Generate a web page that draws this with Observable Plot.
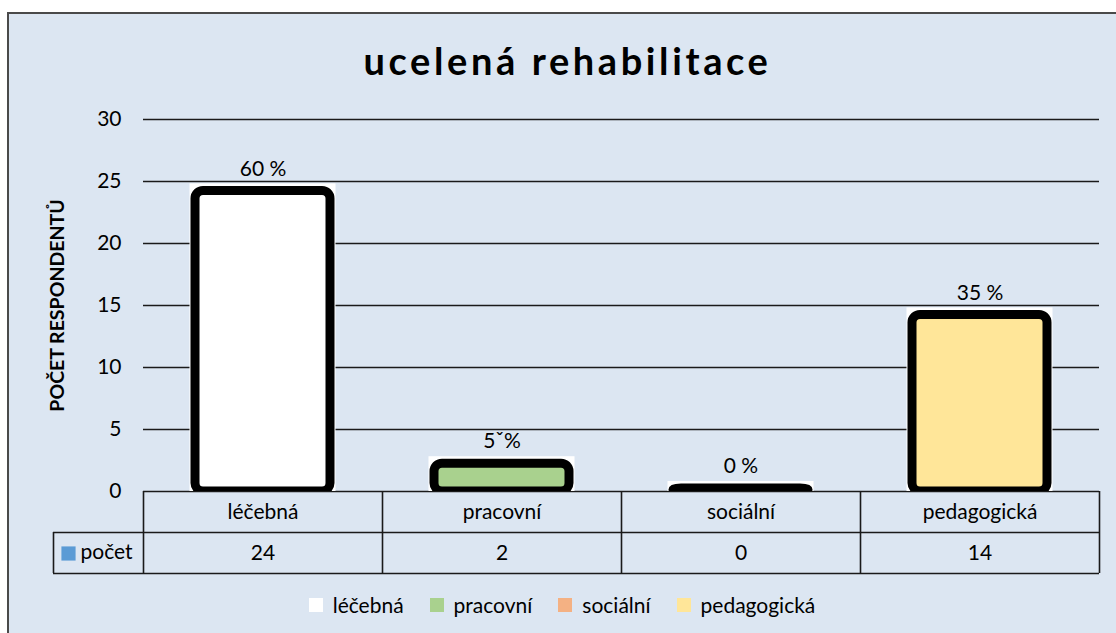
<!DOCTYPE html>
<html><head><meta charset="utf-8">
<script src="https://cdn.jsdelivr.net/npm/d3@7"></script>
<script src="https://cdn.jsdelivr.net/npm/@observablehq/plot@0.6"></script>
<style>
body{margin:0;background:#fff;}
#wrap{position:relative;width:1116px;height:633px;overflow:hidden;font-family:Lato,sans-serif;}
#box{position:absolute;left:7px;top:12px;width:1200px;height:700px;border:2px solid #4a4a4a;background:#DCE6F2;}
#title{position:absolute;top:41px;left:0;width:1135px;text-align:center;font-weight:bold;font-size:38px;line-height:38px;letter-spacing:3.6px;color:#000;}
#chart{position:absolute;left:0;top:0;}
#legend{position:absolute;left:0;top:588px;width:1116px;padding-left:34px;box-sizing:border-box;}
#legend > div{justify-content:center;font-family:Lato,sans-serif !important;font-size:21px !important;color:#000;margin:0 !important;}
#legend span{margin-right:26px !important;}
#legend span svg{margin-right:10px !important;}
</style></head>
<body><div id="wrap"><div id="box"></div><div id="title"></div><div id="chart"></div><div id="legend"></div></div>
<script>
const title = "ucelená rehabilitace";
const yLabel = "POČET RESPONDENTŮ";
const seriesName = "počet";
const categories = ["léčebná", "pracovní", "sociální", "pedagogická"];
const counts = [24, 2, 0, 14];
const percentLabels = ["60 %", "5ˇ%", "0 %", "35 %"];
const colors = ["#FFFFFF", "#A9D18E", "#F4B183", "#FFE699"];
const yTicks = [0, 5, 10, 15, 20, 25, 30];

document.getElementById("title").textContent = title;

const data = categories.map((c, i) => ({cat: c, n: counts[i], pct: percentLabels[i], color: colors[i]}));

const W = 1116, H = 588, mL = 143, mR = 17, mT = 119, mB = 97;
const band = (W - mL - mR) / categories.length;
const line = {stroke: "#1a1a1a", strokeWidth: 1.6};
const fs = 21;

const chart = Plot.plot({
  width: W, height: H,
  marginTop: mT, marginBottom: mB, marginLeft: mL, marginRight: mR,
  style: {background: "transparent", fontFamily: "Lato, sans-serif", fontSize: fs + "px", color: "#000", overflow: "visible"},
  x: {type: "band", domain: categories, padding: 0, axis: null},
  y: {domain: [0, 30], axis: null},
  marks: [
    Plot.ruleY(yTicks, line),
    Plot.axisY({ticks: yTicks, tickSize: 0, tickPadding: 22, label: null, fontSize: fs}),
    Plot.text([yLabel], {text: d => d, frameAnchor: "left", textAnchor: "middle", rotate: -90, dx: -86, fontWeight: "bold", fontSize: 19.5, lineAnchor: "middle"}),
    Plot.barY(data, {x: "cat", y: "n", fill: "white", insetLeft: 46.5, insetRight: 46.5, insetTop: -10, clip: true}),
    Plot.barY(data, {x: "cat", y: "n", fill: "color", stroke: "black", strokeWidth: 9, insetLeft: 52, insetRight: 52, insetTop: -3, rx: 8, clip: true}),
    Plot.text(data, {x: "cat", y: "n", text: "pct", dy: -25, lineAnchor: "middle", fontSize: fs}),
    // data table
    Plot.ruleY([0], {...line, dy: 41, insetLeft: -90}),
    Plot.ruleY([0], {...line, dy: 82, insetLeft: -90}),
    Plot.ruleX(categories, {...line, x: d => d, y1: 0, y2: 0, insetBottom: -82, dx: -band / 2}),
    Plot.ruleX(categories.slice(-1), {...line, x: d => d, y1: 0, y2: 0, insetBottom: -82, dx: band / 2}),
    Plot.ruleX(categories.slice(0, 1), {...line, x: d => d, y1: 0, y2: 0, insetTop: 41, insetBottom: -82, dx: -band / 2 - 90}),
    Plot.text(categories, {x: d => d, text: d => d, frameAnchor: "bottom", dy: 21, lineAnchor: "middle", fontSize: fs}),
    Plot.text(data, {x: "cat", text: d => String(d.n), frameAnchor: "bottom", dy: 62, lineAnchor: "middle", fontSize: fs}),
    Plot.dot([seriesName], {frameAnchor: "bottom-left", dx: -75, dy: 62, symbol: "square", r: 8, fill: "#5B9BD5"}),
    Plot.text([seriesName], {text: d => d, frameAnchor: "bottom-left", dx: -63, dy: 61, textAnchor: "start", lineAnchor: "middle", fontSize: fs})
  ]
});
document.getElementById("chart").appendChild(chart);

const legend = Plot.legend({
  color: {type: "ordinal", domain: categories, range: colors},
  legend: "swatches", swatchSize: 14, className: "lg"
});
document.getElementById("legend").appendChild(legend);
</script>
</body></html>
